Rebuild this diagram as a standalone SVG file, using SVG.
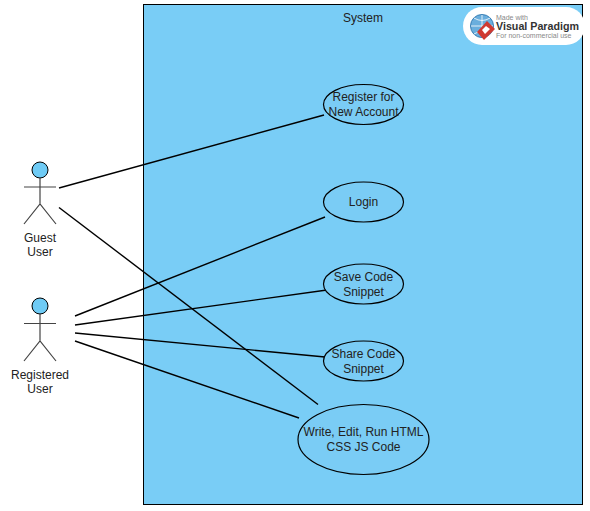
<svg xmlns="http://www.w3.org/2000/svg" width="590" height="511" viewBox="0 0 590 511">
<style>
text{font-family:"Liberation Sans",Arial,sans-serif;font-size:12px;fill:#222;text-anchor:middle}
.uc{fill:#7accf5;stroke:#000;stroke-width:1.2}
.head{fill:#6fcbf5;stroke:#000;stroke-width:1}
.body{fill:none;stroke:#444;stroke-width:1.2}
.conn line{stroke:#000;stroke-width:1.4}
</style>
<rect width="590" height="511" fill="#fff"/>
<g id="system">
<rect x="143.500" y="4.500" width="439" height="500" fill="#79cdf6" stroke="#000" stroke-width="1"/>
<text x="363" y="22">System</text>
</g>
<g id="conn" class="conn">
<line x1="59" y1="188" x2="324" y2="115"/>
<line x1="59" y1="207.500" x2="318" y2="404.500"/>
<line x1="75" y1="316" x2="325" y2="217"/>
<line x1="75" y1="325" x2="327" y2="290"/>
<line x1="75" y1="333" x2="325" y2="357"/>
<line x1="75" y1="341" x2="299" y2="418"/>
</g>
<g id="guest">
<circle class="head" cx="40" cy="170" r="8"/>
<path class="body" d="M40 178V204M24 187H56M24 224L40 204L56 224"/>
<text x="40" y="242">Guest</text>
<text x="40" y="256">User</text>
</g>
<g id="registered">
<circle class="head" cx="40" cy="306" r="8"/>
<path class="body" d="M40 314V341M24 323.500H56M24 361L40 341L56 361"/>
<text x="40" y="379">Registered</text>
<text x="40" y="393">User</text>
</g>
<g id="uc1"><ellipse class="uc" cx="363.500" cy="104.500" rx="40" ry="20"/><text x="363.500" y="101">Register for</text><text x="363.500" y="116">New Account</text></g>
<g id="uc2"><ellipse class="uc" cx="363.500" cy="202" rx="40" ry="20"/><text x="363.500" y="206">Login</text></g>
<g id="uc3"><ellipse class="uc" cx="363.500" cy="284" rx="40" ry="20"/><text x="363.500" y="281">Save Code</text><text x="363.500" y="296">Snippet</text></g>
<g id="uc4"><ellipse class="uc" cx="363.500" cy="361" rx="40" ry="20"/><text x="363.500" y="358">Share Code</text><text x="363.500" y="373">Snippet</text></g>
<g id="uc5"><ellipse class="uc" cx="363.500" cy="439.500" rx="65.500" ry="35"/><text x="363.500" y="436">Write, Edit, Run HTML</text><text x="363.500" y="451">CSS JS Code</text></g>
<g id="watermark">
<rect x="463" y="7" width="122" height="38" rx="19" fill="#fff"/>
<circle cx="482" cy="26" r="11.500" fill="#6aaedd" stroke="#3a7fb5"/>
<path d="M471 26H493M482 15V37M474 18Q482 23 490 18M474 34Q482 29 490 34" fill="none" stroke="#fff" stroke-width="0.800"/>
<path d="M487 21L495 29L484 40L477 32Z" fill="#cf3a32"/>
<path d="M486 26L490 29L485 34L482 30Z" fill="#fff"/>
<text x="496" y="19.500" style="font-size:7px;text-anchor:start;fill:#888">Made with</text>
<text x="496" y="30" style="font-size:10.700px;font-weight:bold;text-anchor:start;fill:#333">Visual Paradigm</text>
<text x="496" y="38" style="font-size:7px;text-anchor:start;fill:#888">For non-commercial use</text>
</g>
</svg>
